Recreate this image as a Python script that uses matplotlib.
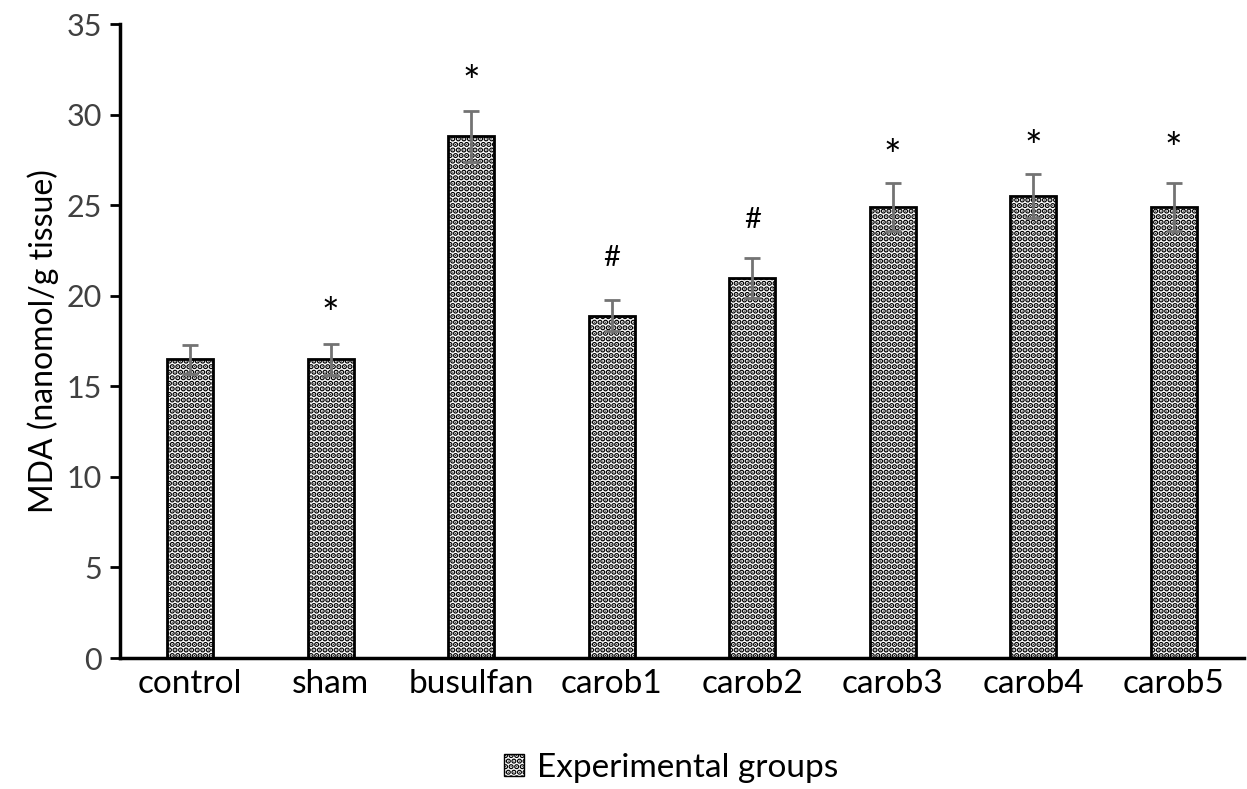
import numpy as np
import matplotlib.pyplot as plt
from matplotlib.patches import Patch

groups = ["control", "sham", "busulfan", "carob1", "carob2", "carob3", "carob4", "carob5"]
mda = [16.5, 16.5, 28.8, 18.9, 21.0, 24.9, 25.5, 24.9]
err = [0.8, 0.85, 1.4, 0.85, 1.1, 1.3, 1.2, 1.3]
marks = ["", "*", "*", "#", "#", "*", "*", "*"]
mark_y = [0, 18.9, 31.7, 22.1, 24.2, 27.6, 28.1, 28.0]

plt.rcParams["font.family"] = ["Lato", "DejaVu Sans"]
plt.rcParams["hatch.linewidth"] = 2.8

fig = plt.figure(figsize=(12.47, 7.89), dpi=100)
ax = fig.add_axes([120 / 1247, 131 / 789, 1124 / 1247, 634 / 789])

x = np.arange(len(groups))
ax.bar(x, mda, width=0.33, color="white", edgecolor="black", linewidth=2,
       hatch="...", zorder=2)
ax.errorbar(x, mda, yerr=err, fmt="none", ecolor="#737373", elinewidth=2,
            capsize=6, capthick=2, zorder=3)

for xi, m, yy in zip(x, marks, mark_y):
    if m == "*":
        ax.text(xi, yy, m, ha="center", va="center", fontsize=30, color="black")
    elif m:
        ax.text(xi, yy, m, ha="center", va="center", fontsize=21, color="black")

ax.set_xlim(-0.5, len(groups) - 0.5)
ax.set_ylim(0, 35)
ax.set_yticks(range(0, 36, 5))
ax.set_xticks(x)
ax.set_xticklabels(groups, fontsize=24, color="black")
ax.tick_params(axis="x", length=0, pad=8)
ax.tick_params(axis="y", direction="out", length=7, width=2, labelsize=22,
               labelcolor="#404040", pad=6)
ax.set_ylabel("MDA (nanomol/g tissue)", fontsize=23, labelpad=5)

for s in ["top", "right"]:
    ax.spines[s].set_visible(False)
for s in ["left", "bottom"]:
    ax.spines[s].set_linewidth(2.5)

handle = Patch(facecolor="white", edgecolor="black", hatch="...", linewidth=1)
fig.legend([handle], ["Experimental groups"], loc="center",
           bbox_to_anchor=(0.538, 0.027), frameon=False, fontsize=24,
           handlelength=0.6, handleheight=0.6, handletextpad=0.4)

fig.savefig("out.png", dpi=100)
